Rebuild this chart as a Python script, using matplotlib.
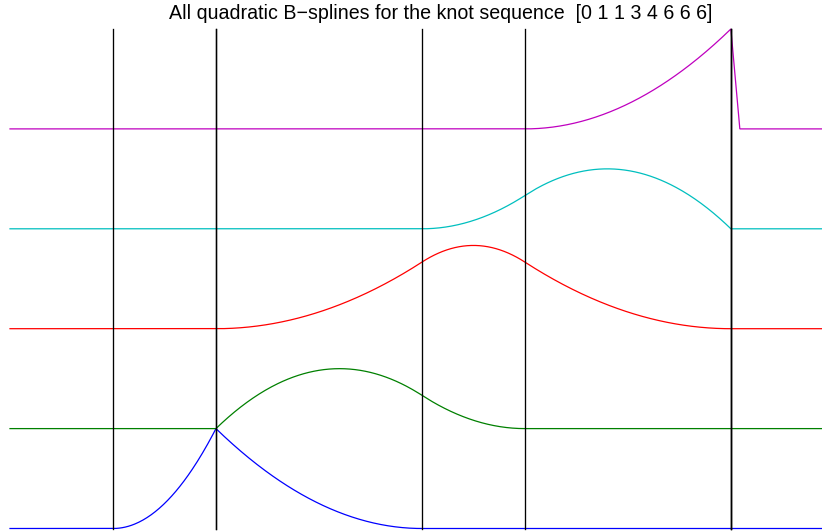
import numpy as np
import matplotlib
matplotlib.use("Agg")
import matplotlib.pyplot as plt

# Data
knots = [0, 1, 1, 3, 4, 6, 6, 6]
order = 3  # quadratic
colors = ["#0000ff", "#008000", "#ff0000", "#00bfbf", "#bf00bf"]
title = "All quadratic B\u2212splines for the knot sequence  [0 1 1 3 4 6 6 6]"


def bspline(t, i, k, x):
    """Cox-de Boor B-spline B_{i,k} (order k), left-continuous at the last knot."""
    t = np.asarray(t, float)
    if k == 1:
        last = t[-1]
        res = ((x >= t[i]) & (x < t[i + 1])).astype(float)
        if t[i + 1] == last and t[i] < last:
            res[x == last] = 1.0
        return res
    out = np.zeros_like(x)
    d1 = t[i + k - 1] - t[i]
    if d1 > 0:
        out += (x - t[i]) / d1 * bspline(t, i, k - 1, x)
    d2 = t[i + k] - t[i + 1]
    if d2 > 0:
        out += (t[i + k] - x) / d2 * bspline(t, i + 1, k - 1, x)
    return out


x = np.concatenate([[knots[0] - 1], np.linspace(knots[0], knots[-1], 601),
                    [knots[-1] + 0.087, knots[-1] + 1]])

W, H = 822, 531
fig = plt.figure(figsize=(W / 100, H / 100), dpi=100)
x0, x1 = -1.0, 6.88
ax = fig.add_axes([10 / W, 2.5 / H, (821.5 - 10) / W, (528.5 - 29) / H])
ax.set_xlim(x0, x1)
ax.set_ylim(0, 5)
ax.axis("off")

nb = len(knots) - order
for j in range(nb):
    y = bspline(knots, j, order, x) + j
    ax.plot(x, y, color=colors[j], lw=0.9, clip_on=False, solid_joinstyle="miter")

for kn in knots:
    ax.plot([kn, kn], [0, 5], color="black", lw=0.95, clip_on=False)

t = fig.text(441 / W, 1 - 19 / H, title, ha="center", va="baseline",
             family="Liberation Sans", fontsize=10)
fig.canvas.draw()
bb = t.get_window_extent()
t.set_fontsize(10 * 542 / bb.width)

fig.savefig("out.png", dpi=100)
